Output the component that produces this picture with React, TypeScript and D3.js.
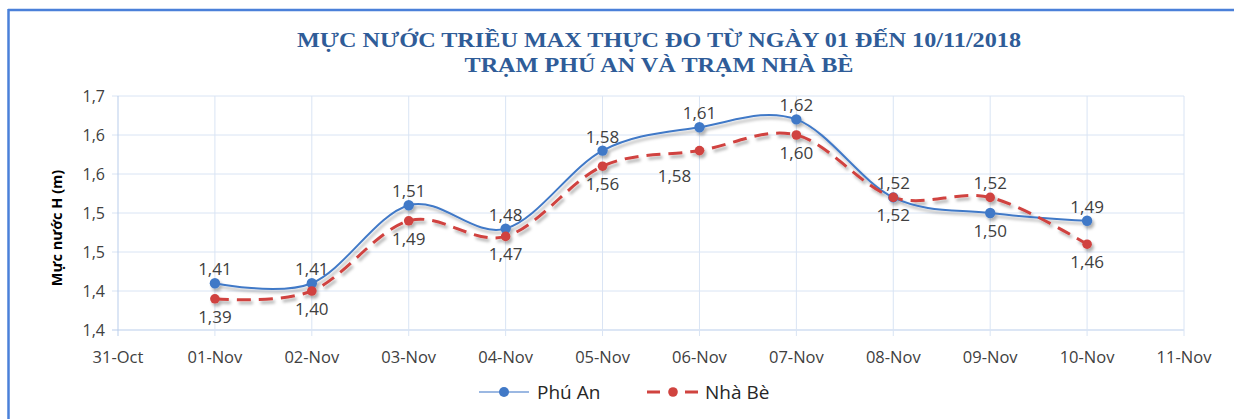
import React from "react";
import * as d3 from "d3";

const categories = ["31-Oct", "01-Nov", "02-Nov", "03-Nov", "04-Nov", "05-Nov", "06-Nov", "07-Nov", "08-Nov", "09-Nov", "10-Nov", "11-Nov"];
const dataDates = ["01-Nov", "02-Nov", "03-Nov", "04-Nov", "05-Nov", "06-Nov", "07-Nov", "08-Nov", "09-Nov", "10-Nov"];
const phuAn = [1.41, 1.41, 1.51, 1.48, 1.58, 1.61, 1.62, 1.52, 1.5, 1.49];
const nhaBe = [1.39, 1.4, 1.49, 1.47, 1.56, 1.58, 1.6, 1.52, 1.52, 1.46];
const yTicks = [1.35, 1.4, 1.45, 1.5, 1.55, 1.6, 1.65];
const yTickLabels = ["1,4", "1,4", "1,5", "1,5", "1,6", "1,6", "1,7"];
const phuAnPlace = ["above", "above", "above", "above", "above", "above", "above", "above", "below", "above"];
const nhaBePlace = ["below", "below", "below", "below", "below", "belowLeft", "below", "below", "above", "below"];
const titleLines = ["MỰC NƯỚC TRIỀU MAX THỰC ĐO TỪ NGÀY 01 ĐẾN 10/11/2018", "TRẠM PHÚ AN VÀ TRẠM NHÀ BÈ"];
const seriesNames = ["Phú An", "Nhà Bè"];

const W = 1247;
const H = 419;
const BLUE = "#4179C7";
const RED = "#D0433F";
const GRID = "#D9E4F4";
const AXIS = "#B9CDEB";
const TXT = "#404040";
const SANS = "'Open Sans', 'DejaVu Sans', sans-serif";

const fmt = (v: number) => v.toFixed(2).replace(".", ",");

export default function App() {
  const x = d3.scalePoint<string>().domain(categories).range([118, 1184]);
  const y = d3.scaleLinear().domain([1.35, 1.65]).range([330, 96]);
  const line = d3
    .line<number>()
    .x((_, i) => x(dataDates[i]) as number)
    .y((d) => y(d))
    .curve(d3.curveCardinal.tension(0));

  const labelPos = (place: string, px: number, py: number) => {
    if (place === "above") return { x: px, y: py - 8 };
    if (place === "belowLeft") return { x: px - 25, y: py + 31 };
    return { x: px, y: py + 24 };
  };

  return (
    <svg width={W} height={H} style={{ position: "absolute", left: 0, top: 0, background: "#fff" }}>
      <defs>
        <filter id="sh" x="-10%" y="-30%" width="120%" height="160%">
          <feDropShadow dx="2" dy="3" stdDeviation="1.6" floodColor="#000" floodOpacity="0.3" />
        </filter>
      </defs>
      <rect x={0} y={0} width={W} height={H} fill="#fff" />
      {/* frame */}
      <line x1={8.5} x2={8.5} y1={9} y2={H} stroke="#4A80D9" strokeWidth={2.5} />
      <line x1={8} x2={1234} y1={10} y2={10} stroke="#4A80D9" strokeWidth={2.5} />

      {/* title */}
      <text x={659} y={47} textAnchor="middle" fontFamily="'Liberation Serif', serif" fontWeight="bold" fontSize={20.5} fill="#2F5C98" textLength={724} lengthAdjust="spacingAndGlyphs">
        {titleLines[0]}
      </text>
      <text x={659} y={72} textAnchor="middle" fontFamily="'Liberation Serif', serif" fontWeight="bold" fontSize={20.5} fill="#2F5C98" textLength={389} lengthAdjust="spacingAndGlyphs">
        {titleLines[1]}
      </text>

      {/* gridlines */}
      {yTicks.map((t, i) => (
        <g key={"y" + i}>
          <line x1={112} x2={1184} y1={y(t)} y2={y(t)} stroke={i === 0 ? AXIS : GRID} strokeWidth={1} />
          <text x={105} y={y(t) + 5.5} textAnchor="end" fontFamily={SANS} fontSize={16} fill={TXT}>
            {yTickLabels[i]}
          </text>
        </g>
      ))}
      {categories.map((c, i) => (
        <g key={"x" + i}>
          <line x1={x(c)} x2={x(c)} y1={96} y2={336} stroke={i === 0 ? AXIS : GRID} strokeWidth={1} />
          <text x={x(c)} y={363} textAnchor="middle" fontFamily={SANS} fontSize={16.5} fill={TXT}>
            {c}
          </text>
        </g>
      ))}

      {/* y axis title */}
      <text transform="translate(62,228) rotate(-90)" textAnchor="middle" fontFamily={SANS} fontWeight="bold" fontSize={14.5} fill="#000">
        Mực nước H (m)
      </text>

      {/* series */}
      <g filter="url(#sh)">
        <path d={line(phuAn) || ""} fill="none" stroke={BLUE} strokeWidth={2} />
        <path d={line(nhaBe) || ""} fill="none" stroke={RED} strokeWidth={3} strokeDasharray="14,8" />
        {phuAn.map((v, i) => (
          <circle key={"pa" + i} cx={x(dataDates[i])} cy={y(v)} r={5.2} fill={BLUE} />
        ))}
        {nhaBe.map((v, i) => (
          <circle key={"nb" + i} cx={x(dataDates[i])} cy={y(v)} r={4.8} fill={RED} />
        ))}
      </g>

      {/* data labels */}
      {phuAn.map((v, i) => {
        const p = labelPos(phuAnPlace[i], x(dataDates[i]) as number, y(v));
        return (
          <text key={"lpa" + i} x={p.x} y={p.y} textAnchor="middle" fontFamily={SANS} fontSize={17} fill={TXT}>
            {fmt(v)}
          </text>
        );
      })}
      {nhaBe.map((v, i) => {
        const p = labelPos(nhaBePlace[i], x(dataDates[i]) as number, y(v));
        return (
          <text key={"lnb" + i} x={p.x} y={p.y} textAnchor="middle" fontFamily={SANS} fontSize={17} fill={TXT}>
            {fmt(v)}
          </text>
        );
      })}

      {/* legend */}
      <g>
        <line x1={479} x2={529} y1={392} y2={392} stroke={BLUE} strokeWidth={1.5} strokeOpacity={0.7} />
        <circle cx={504} cy={392} r={5} fill={BLUE} />
        <text x={537} y={399} fontFamily={SANS} fontSize={19} fill="#262626">
          {seriesNames[0]}
        </text>
        <line x1={647} x2={698} y1={392} y2={392} stroke={RED} strokeWidth={3} strokeDasharray="13,25" />
        <circle cx={673} cy={392} r={4.8} fill={RED} />
        <text x={705} y={399} fontFamily={SANS} fontSize={19} fill="#262626">
          {seriesNames[1]}
        </text>
      </g>
    </svg>
  );
}
